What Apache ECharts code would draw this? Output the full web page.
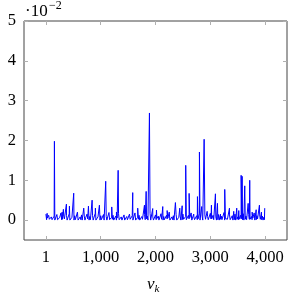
<!DOCTYPE html>
<html><head><meta charset="utf-8">
<script src="https://cdn.jsdelivr.net/npm/echarts@6/dist/echarts.min.js"></script>
<style>html,body{margin:0;padding:0;background:#fff}#c{width:294px;height:297px}</style>
</head><body><div id="c"></div>
<script>
// x tick values and labels
var xTicks = [1, 1000, 2000, 3000, 4000];
var yTicks = [0, 1, 2, 3, 4, 5];
// dense low-level band, sampled every 25 steps starting at v_k = 1 (values in units of 1e-2)
var bandStep = 25;
var bandVals = [
0.15,0.05,0.12,0.03,0.08,0.02,0.1,0.04,0.14,0.03,
0.06,0.18,0.02,0.09,0.05,0.12,0.03,0.16,0.04,0.07,
0.02,0.11,0.05,0.2,0.03,0.08,0.13,0.02,0.1,0.06,
0.15,0.03,0.09,0.04,0.12,0.02,0.17,0.05,0.08,0.03,
0.11,0.06,0.14,0.02,0.09,0.04,0.19,0.03,0.07,0.12,
0.02,0.1,0.05,0.16,0.03,0.08,0.04,0.13,0.02,0.09,
0.06,0.15,0.03,0.11,0.05,0.18,0.02,0.07,0.12,0.04,
0.09,0.03,0.14,0.06,0.1,0.02,0.17,0.05,0.08,0.03,
0.13,0.04,0.1,0.02,0.16,0.06,0.09,0.03,0.12,0.05,
0.2,0.02,0.08,0.11,0.04,0.14,0.03,0.07,0.1,0.02,
0.15,0.05,0.09,0.03,0.12,0.06,0.18,0.02,0.08,0.04,
0.11,0.03,0.16,0.05,0.1,0.02,0.13,0.07,0.09,0.04,
0.17,0.03,0.12,0.06,0.08,0.02,0.14,0.05,0.1,0.03,
0.19,0.04,0.09,0.02,0.13,0.06,0.11,0.03,0.15,0.05,
0.08,0.02,0.12,0.04,0.16,0.03,0.1,0.06,0.14,0.02,
0.09,0.05,0.18,0.03,0.11,0.04,0.13,0.02,0.1,0.07
];
// in-between low samples, offset by 12 steps from the band samples
var lowOffset = 12;
var lowVals = [
0.01,0.0,0.02,0.0,0.01,0.03,0.0,0.02,0.01,0.0,
0.02,0.01,0.0,0.03,0.01,0.0,0.02,0.0,0.01,0.02,
0.0,0.01,0.03,0.0,0.02,0.01,0.0,0.02,0.0,0.01,
0.03,0.0,0.01,0.02,0.0,0.01,0.0,0.02,0.03,0.0,
0.01,0.02,0.0,0.01,0.0,0.03,0.01,0.0,0.02,0.0,
0.01,0.0,0.02,0.01,0.03,0.0,0.01,0.0,0.02,0.01,
0.0,0.02,0.01,0.0,0.03,0.0,0.01,0.02,0.0,0.01,
0.02,0.0,0.01,0.03,0.0,0.02,0.0,0.01,0.0,0.02,
0.01,0.03,0.0,0.01,0.02,0.0,0.01,0.0,0.03,0.01,
0.0,0.02,0.01,0.0,0.02,0.0,0.01,0.03,0.0,0.01,
0.02,0.0,0.01,0.0,0.03,0.01,0.0,0.02,0.01,0.0,
0.01,0.02,0.0,0.03,0.0,0.01,0.02,0.0,0.01,0.0,
0.03,0.0,0.01,0.02,0.0,0.01,0.0,0.02,0.01,0.03,
0.0,0.01,0.02,0.0,0.01,0.03,0.0,0.01,0.0,0.02,
0.01,0.0,0.03,0.01,0.0,0.02,0.01,0.0,0.02,0.0,
0.01,0.02,0.0,0.01,0.03,0.0,0.02,0.01,0.0,0.01
];
// visible spikes (v_k, value in 1e-2)
var spikeX = [23,156,297,320,375,430,508,691,777,844,904,977,1092,1202,1288,1319,1585,1676,1799,1830,1890,1950,2018,2133,2213,2364,2443,2487,2552,2614,2698,2766,2802,2844,2888,2943,3021,3094,3131,3186,3264,3350,3428,3483,3520,3563,3581,3629,3691,3720,3764,3837,3897,3934,3994];
var spikeY = [0.17,1.98,0.2,0.27,0.4,0.35,0.675,0.3,0.35,0.5,0.3,0.375,0.975,0.33,0.2,1.25,0.69,0.3,0.375,0.72,2.69,0.29,0.25,0.34,0.24,0.44,0.3,0.36,1.375,0.67,0.15,0.59,1.71,0.34,2.03,0.22,0.375,0.66,0.42,0.15,0.77,0.3,0.22,0.3,0.24,1.125,1.1,0.86,0.42,1.0,0.2,0.26,0.375,0.2,0.3];

var pts = [];
for (var i = 0; i < bandVals.length; i++) pts.push([1 + i * bandStep, bandVals[i]]);
for (var m = 0; m < lowVals.length; m++) pts.push([1 + lowOffset + m * bandStep, lowVals[m]]);
for (var j = 0; j < spikeX.length; j++) pts.push([spikeX[j], spikeY[j]]);
pts.sort(function(a,b){return a[0]-b[0];});

var serif = 'Liberation Serif, DejaVu Serif, serif';
var tickStyle = {show:true, inside:true, length:4, lineStyle:{color:'#b0b0b0', width:1}};
function fmt(v){ return String(Math.round(v)).replace(/\B(?=(\d{3})+(?!\d))/g, ','); }
var noLine = {show:false, onZero:false};

var chart = echarts.init(document.getElementById('c'), null, {renderer:'canvas'});
chart.setOption({
  animation:false,
  backgroundColor:'#fff',
  grid:{left:24, right:7, top:21, bottom:57, containLabel:false, outerBoundsMode:'none', show:true, borderColor:'#444', borderWidth:1, backgroundColor:'transparent'},
  xAxis:[
    {type:'value', min:-399, max:4400, position:'bottom',
     axisLine:noLine, splitLine:{show:false},
     axisTick:Object.assign({customValues:xTicks}, tickStyle),
     axisLabel:{customValues:xTicks, formatter:fmt, fontFamily:serif, fontSize:16.5, color:'#000', margin:9}},
    {type:'value', min:-399, max:4400, position:'top',
     axisLine:noLine, splitLine:{show:false},
     axisTick:Object.assign({customValues:xTicks}, tickStyle),
     axisLabel:{show:false}}
  ],
  yAxis:[
    {type:'value', min:-0.5, max:5, position:'left',
     axisLine:noLine, splitLine:{show:false},
     axisTick:Object.assign({customValues:yTicks}, tickStyle),
     axisLabel:{customValues:yTicks, fontFamily:serif, fontSize:16.5, color:'#000', margin:8}},
    {type:'value', min:-0.5, max:5, position:'right',
     axisLine:noLine, splitLine:{show:false},
     axisTick:Object.assign({customValues:yTicks}, tickStyle),
     axisLabel:{show:false}}
  ],
  series:[{type:'line', data:pts, showSymbol:false, symbol:'none', clip:true,
    lineStyle:{color:'#0000ff', width:1}}],
  graphic:[
    {type:'text', left:25, top:3, style:{text:'·10', fontFamily:serif, fontSize:17, fill:'#000'}},
    {type:'text', left:49, top:0, style:{text:'−2', fontFamily:serif, fontSize:12, fill:'#000'}},
    {type:'text', left:147, top:276, style:{
      text:'{v|v}{k|k}', rich:{
        v:{fontFamily:serif, fontStyle:'italic', fontSize:17, fill:'#000'},
        k:{fontFamily:serif, fontStyle:'italic', fontSize:11, fill:'#000', padding:[10,0,0,0]}
      }}}
  ]
});
</script></body></html>
